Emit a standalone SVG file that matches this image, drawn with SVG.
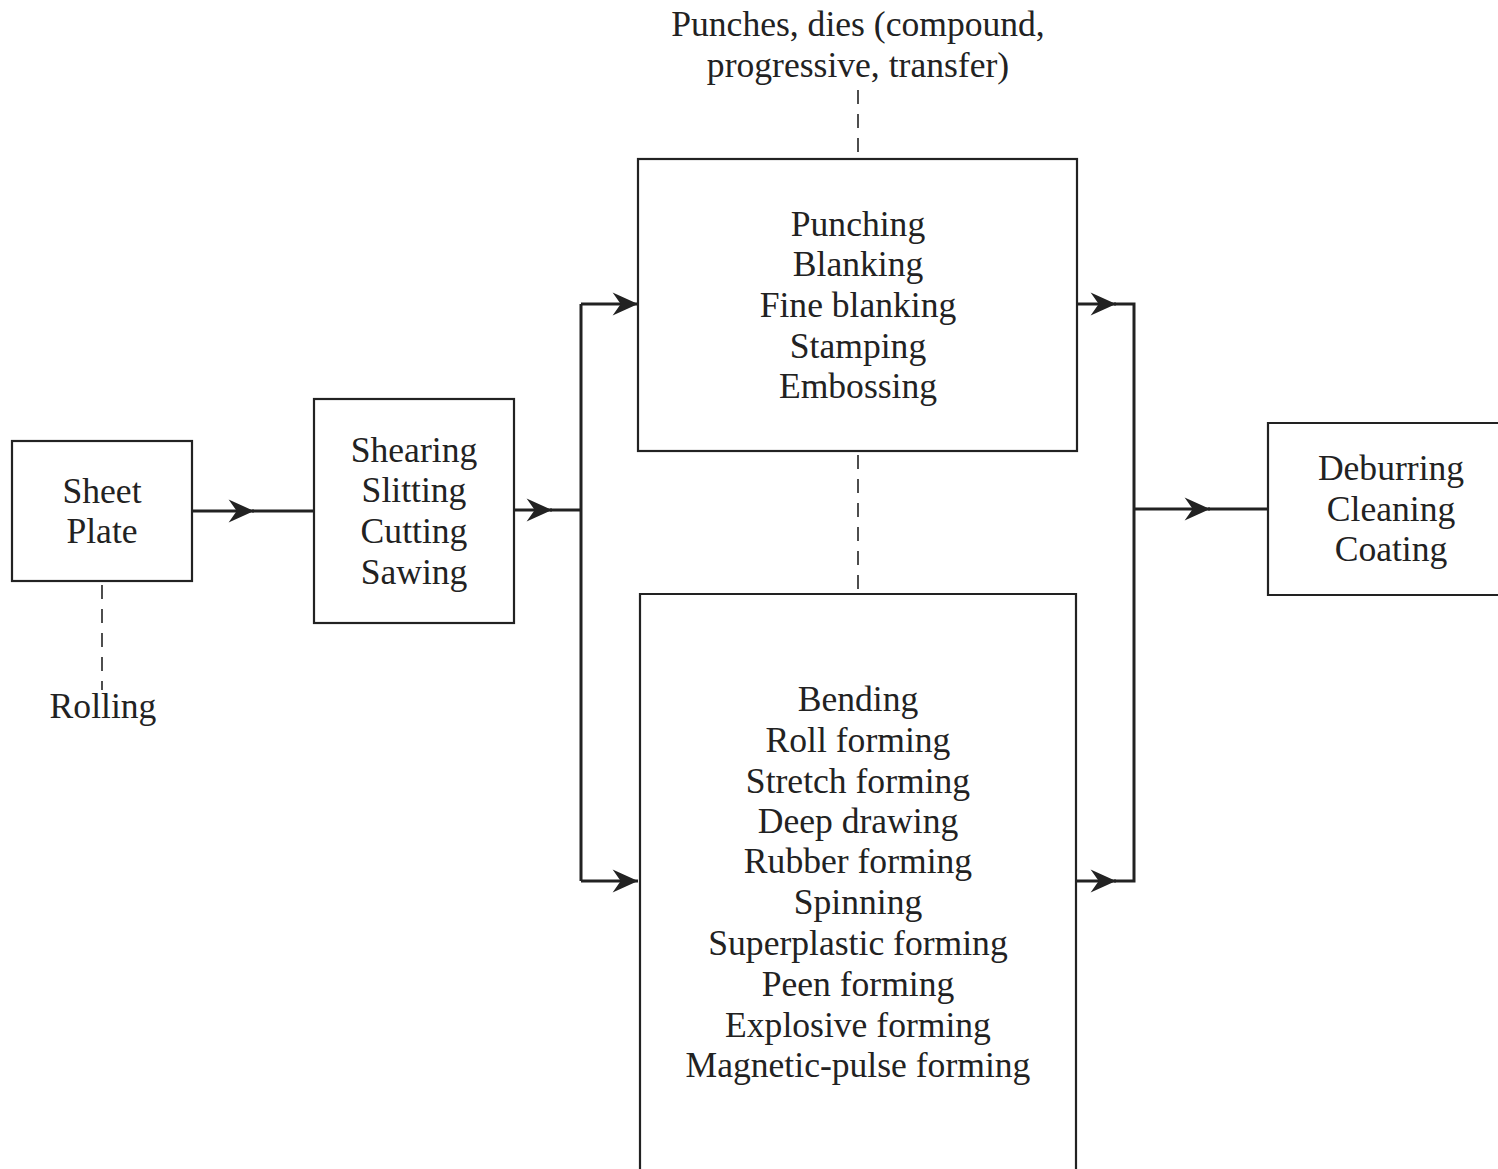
<svg xmlns="http://www.w3.org/2000/svg" width="1498" height="1169" viewBox="0 0 1498 1169">
<defs>
<style>
.box{fill:none;stroke:#222;stroke-width:2.2}
.ln{fill:none;stroke:#222;stroke-width:3}
.dash{fill:none;stroke:#222;stroke-width:1.6;stroke-dasharray:14 10}
text{font-family:"Liberation Serif","Times New Roman",serif;font-size:35.6px;fill:#222;text-anchor:middle}
</style>
<marker id="ah" markerUnits="userSpaceOnUse" markerWidth="30" markerHeight="30" viewBox="-24 -12 26 24" refX="0" refY="0" orient="auto">
<path d="M0,0 L-22,-10 L-15,0 L-22,10 Z" fill="#222"/>
</marker>
</defs>
<rect width="1498" height="1169" fill="#fff"/>
<g id="connectors">
<path class="ln" d="M192,511 L254,511" marker-end="url(#ah)"/>
<path class="ln" d="M252,511 L314,511"/>
<path class="ln" d="M514,510 L552,510" marker-end="url(#ah)"/>
<path class="ln" d="M550,510 L581,510"/>
<path class="ln" d="M581,304 L581,881"/>
<path class="ln" d="M581,304 L638,304" marker-end="url(#ah)"/>
<path class="ln" d="M581,881 L638,881" marker-end="url(#ah)"/>
<path class="ln" d="M1077,304 L1116,304" marker-end="url(#ah)"/>
<path class="ln" d="M1114,304 L1134,304 L1134,881 L1114,881"/>
<path class="ln" d="M1077,881 L1116,881" marker-end="url(#ah)"/>
<path class="ln" d="M1134,509 L1210,509" marker-end="url(#ah)"/>
<path class="ln" d="M1208,509 L1268,509"/>
<path class="dash" d="M102,585 L102,690"/>
<path class="dash" d="M858,90 L858,158"/>
<path class="dash" d="M858,455 L858,594"/>
</g>
<g id="sheet">
<rect class="box" x="12" y="441" width="180" height="140"/>
<text x="102" y="503">Sheet</text>
<text x="102" y="543">Plate</text>
</g>
<g id="rolling">
<text x="103" y="718">Rolling</text>
</g>
<g id="shearing">
<rect class="box" x="314" y="399" width="200" height="224"/>
<text x="414" y="462">Shearing</text>
<text x="414" y="502">Slitting</text>
<text x="414" y="543">Cutting</text>
<text x="414" y="584">Sawing</text>
</g>
<g id="punches-label">
<text x="858" y="36">Punches, dies (compound,</text>
<text x="858" y="77">progressive, transfer)</text>
</g>
<g id="punching">
<rect class="box" x="638" y="159" width="439" height="292"/>
<text x="858" y="236">Punching</text>
<text x="858" y="276">Blanking</text>
<text x="858" y="317">Fine blanking</text>
<text x="858" y="358">Stamping</text>
<text x="858" y="398">Embossing</text>
</g>
<g id="forming">
<path class="box" d="M640,1169 L640,594 L1076,594 L1076,1169"/>
<text x="858" y="711">Bending</text>
<text x="858" y="752">Roll forming</text>
<text x="858" y="793">Stretch forming</text>
<text x="858" y="833">Deep drawing</text>
<text x="858" y="873">Rubber forming</text>
<text x="858" y="914">Spinning</text>
<text x="858" y="955">Superplastic forming</text>
<text x="858" y="996">Peen forming</text>
<text x="858" y="1037">Explosive forming</text>
<text x="858" y="1077">Magnetic-pulse forming</text>
</g>
<g id="deburring">
<path class="box" d="M1500,423 L1268,423 L1268,595 L1500,595"/>
<text x="1391" y="480">Deburring</text>
<text x="1391" y="521">Cleaning</text>
<text x="1391" y="561">Coating</text>
</g>
</svg>
